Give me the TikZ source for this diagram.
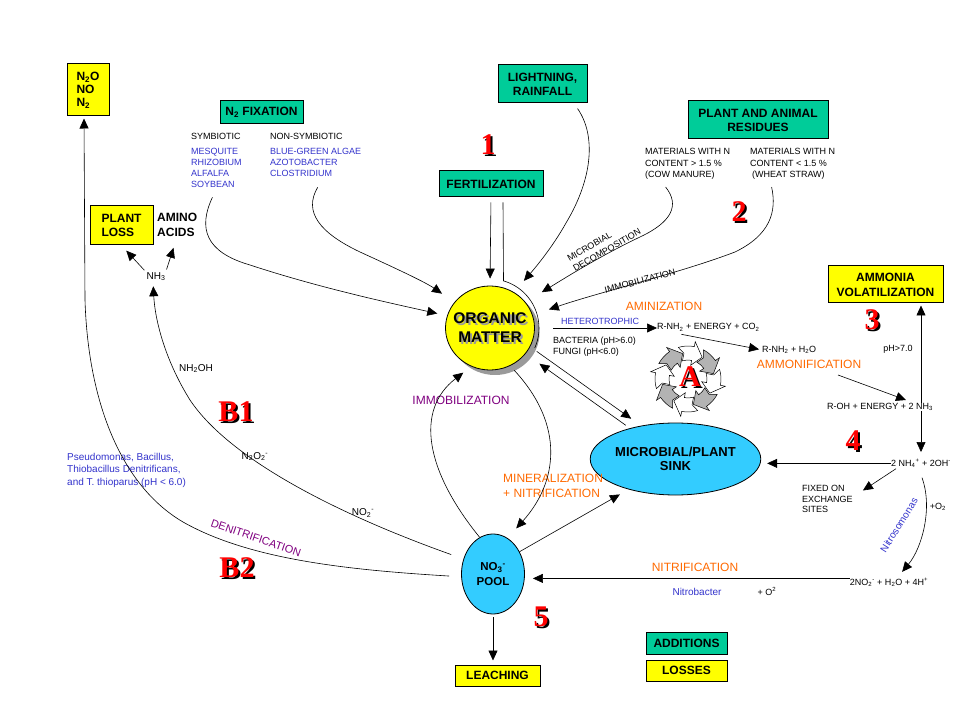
\documentclass[tikz,border=0pt]{standalone}
\usepackage{fontspec}
\setmainfont{Liberation Sans}
\newfontfamily\numfont{Liberation Serif}
\usetikzlibrary{calc,positioning,shapes.geometric,arrows.meta}
\definecolor{ncgreen} {HTML}{00CC99}
\definecolor{ncyellow}{HTML}{FFFF00}
\definecolor{ncsky}   {HTML}{33CCFF}
\definecolor{ncblue}  {HTML}{3333CC}
\definecolor{ncorange}{HTML}{FF6A00}
\definecolor{ncpurple}{HTML}{800080}
\definecolor{ncred}   {HTML}{FF0000}
\definecolor{ncgrey}  {HTML}{B3B3B3}
\definecolor{ncshade} {HTML}{9A9A9A}

% text with a drop shadow behind it
\newcommand{\dropshade}[2]{\rlap{\kern2pt\raisebox{-2pt}{\textcolor{#1}{#2}}}#2}
% red step number
\newcommand{\rednum}[3]{\node[numtext] (#1) at (#2) {\dropshade{black}{#3}};}

\begin{document}
\begin{tikzpicture}[x=1pt, y=-1pt, every node/.style={inner sep=0pt},
    addbox/.style={draw, line width=1pt, fill=ncgreen, align=center,
                   font=\bfseries\fontsize{12}{14}\selectfont},
    lossbox/.style={addbox, fill=ncyellow},
    ovalnode/.style={ellipse, draw, line width=0.8pt, fill=ncsky, align=center},
    smalltxt/.style={font=\fontsize{9}{11}\selectfont, align=left},
    bluetxt/.style={text=ncblue},
    proc/.style={font=\fontsize{12}{15}\selectfont, align=left},
    arr/.style={line width=0.6pt, -{Triangle[length=10pt,width=9pt]}},
    numtext/.style={font=\numfont\bfseries\fontsize{30}{30}\selectfont, text=ncred}]
      \useasboundingbox (0,0) rectangle (959,719);
      \fill[white] (0,0) rectangle (959,719);

      % additions and losses
      \node[lossbox, minimum width=42pt, minimum height=52pt, align=left,
            font=\bfseries\fontsize{12}{13}\selectfont] (gas) at (88,90)
            {N\textsubscript{2}O\\NO\\N\textsubscript{2}};
      \node[addbox, minimum width=83pt, minimum height=23pt] (fix) at (261.5,112.5) {N\textsubscript{2} FIXATION};
      \node[lossbox, minimum width=63pt, minimum height=39pt, align=left] (plantloss) at (121.5,225.5) {PLANT\\LOSS};
      \node[addbox, minimum width=89pt, minimum height=38pt] (light) at (542.5,84) {LIGHTNING,\\RAINFALL};
      \node[addbox, minimum width=104pt, minimum height=26pt] (fert) at (491,184) {FERTILIZATION};
      \node[addbox, minimum width=140pt, minimum height=38pt] (resid) at (758,120) {PLANT AND ANIMAL\\RESIDUES};
      \node[lossbox, minimum width=115pt, minimum height=37pt,
            font=\bfseries\fontsize{12}{15}\selectfont] (volat) at (885.5,284.5) {AMMONIA\\VOLATILIZATION};
      \node[lossbox, minimum width=85pt, minimum height=21pt] (leach) at (497.5,675.5) {LEACHING};
      \node[addbox, minimum width=81pt, minimum height=22pt] (additions) at (686.5,643) {ADDITIONS};
      \node[lossbox, minimum width=81pt, minimum height=21pt] (losses) at (686.5,670.5) {LOSSES};

      % pools
      \node[ellipse, fill=ncshade, minimum width=89pt, minimum height=84pt] (omshade) at (495,333) {};
      \node[ellipse, draw, line width=0.8pt, fill=ncyellow, minimum width=89pt, minimum height=84pt] (om) at (490,328) {};
      \draw[line width=0.6pt] ([shift={(12,5)}]fert.south) -- (503.5,280.9) arc[start angle=74, end angle=-24, radius=49pt];
      \node[font=\bfseries\fontsize{15.5}{19}\selectfont, align=center] (omtext) at (490,328.5)
            {\dropshade{ncshade}{ORGANIC}\\\dropshade{ncshade}{MATTER}};
      \node[ovalnode, minimum width=135pt, minimum height=72pt,
            font=\bfseries\fontsize{13}{14}\selectfont] (sink) at (675.5,459) {MICROBIAL/PLANT\\SINK};
      \node[ovalnode, minimum width=63pt, minimum height=80pt,
            font=\bfseries\fontsize{11.5}{15}\selectfont] (pool) at (493,574) {NO\textsubscript{3}\textsuperscript{-}\\POOL};

      % fixation and residues
      \node[smalltxt, anchor=west] (sym) at (191,136) {SYMBIOTIC};
      \node[smalltxt, anchor=west] (nonsym) at (270,136) {NON-SYMBIOTIC};
      \node[smalltxt, bluetxt, anchor=north west] (symlist) at (191,148.5) {MESQUITE\\RHIZOBIUM\\ALFALFA\\SOYBEAN};
      \node[smalltxt, bluetxt, anchor=north west] (nonsymlist) at (270,148.5) {BLUE-GREEN ALGAE\\AZOTOBACTER\\CLOSTRIDIUM};
      \node[smalltxt, font=\fontsize{9}{11.5}\selectfont, anchor=north west] (cow) at (645,148.5)
            {MATERIALS WITH N\\CONTENT > 1.5 \%\\(COW MANURE)};
      \node[smalltxt, font=\fontsize{9}{11.5}\selectfont, anchor=north west] (straw) at (750,148.5)
            {MATERIALS WITH N\\CONTENT < 1.5 \%\\\hspace{2pt}(WHEAT STRAW)};
      \node[font=\bfseries\fontsize{12}{15}\selectfont, align=left, anchor=north west] (amino) at (157,212.5) {AMINO\\ACIDS};
      \node[font=\fontsize{10}{12}\selectfont, anchor=base] (nh3) at (156,279.5) {NH\textsubscript{3}};
      \node[font=\fontsize{9}{11.5}\selectfont, align=left, rotate=30] (mdecomp) at (604,245) {MICROBIAL\\DECOMPOSITION};
      \node[smalltxt, rotate=15] (immob2) at (640,281) {IMMOBILIZATION};

      % aminization and ammonification
      \node[smalltxt, bluetxt] (het) at (600,321) {HETEROTROPHIC};
      \coordinate (hetstart) at (553,328);
      \node[smalltxt, anchor=base west] (rnh) at (657,330) {R-NH\textsubscript{2} + ENERGY + CO\textsubscript{2}};
      \node[smalltxt, anchor=north west] (bact) at (553,336.5) {BACTERIA (pH>6.0)\\FUNGI (pH<6.0)};
      \node[proc, text=ncorange] (aminiz) at (664,306) {AMINIZATION};
      \node[smalltxt, anchor=base west] (rnhh2o) at (762,352.5) {R-NH\textsubscript{2} + H\textsubscript{2}O};
      \node[proc, text=ncorange] (ammonif) at (809,364) {AMMONIFICATION};
      \node[smalltxt, anchor=base] (roh) at (880,409.5) {R-OH + ENERGY + 2 NH\textsubscript{3}};
      \node[smalltxt, anchor=base] (ph7) at (898,351.5) {pH>7.0};
      \node[smalltxt, anchor=base] (nh4) at (921,466.5) {2 NH\textsubscript{4}\textsuperscript{+} + 2OH\textsuperscript{-}};
      \node[smalltxt, font=\fontsize{9}{10.5}\selectfont, anchor=north west] (fixed) at (802,485.5) {FIXED ON\\EXCHANGE\\SITES};
      \node[smalltxt, anchor=base] (o2) at (938,509.5) {+O\textsubscript{2}};
      \node[font=\fontsize{10}{12}\selectfont, bluetxt, rotate=58] (nitroso) at (899,525) {Nitrosomonas};
      \node[smalltxt, anchor=base] (no2h) at (889,585.5)
            {2NO\textsubscript{2}\textsuperscript{-} + H\textsubscript{2}O + 4H\textsuperscript{+}};
      \node[proc, text=ncorange] (nitrif) at (695,567) {NITRIFICATION};
      \node[font=\fontsize{10}{12}\selectfont, bluetxt] (nitrob) at (697,592) {Nitrobacter};
      \node[smalltxt, anchor=base] (plusO) at (767,595) {+ O\textsuperscript{2}};

      % cycle A
      \begin{scope}[shift={(688,379)}]
        \foreach \a/\c in {152/ncgrey,107/white,62/ncgrey,17/white,-28/ncgrey,-73/white,-118/ncgrey,-163/white}{
          \pgfmathsetmacro\cyb{\a-28}
          \pgfmathsetmacro\cye{\a-50}
          \pgfmathsetmacro\cyn{\a-8}
          \filldraw[fill=\c, line width=0.5pt]
            (\a:33pt) arc[start angle=\a, end angle=\cyb, radius=33pt]
            -- (\cyb:38pt) -- (\cye:26pt) -- (\cyb:14pt) -- (\cyb:19pt)
            arc[start angle=\cyb, end angle=\a, radius=19pt]
            -- (\cyn:26pt) -- cycle;
        }
      \end{scope}

      % middle and lower labels
      \node[proc, text=ncpurple] (immob) at (461,400) {IMMOBILIZATION};
      \node[proc, text=ncorange, anchor=north west] (miner) at (503,473.5) {MINERALIZATION\\+ NITRIFICATION};
      \node[font=\fontsize{10}{12.5}\selectfont, bluetxt, align=left, anchor=north west] (pseudo) at (67,453)
            {Pseudomonas, Bacillus,\\Thiobacillus Denitrificans,\\and T. thioparus (pH < 6.0)};
      \node[font=\fontsize{10}{12}\selectfont, anchor=base] (nh2oh) at (196,371.5) {NH\textsubscript{2}OH};
      \node[font=\fontsize{10}{12}\selectfont, anchor=base] (n2o2) at (255,459.5) {N\textsubscript{2}O\textsubscript{2}\textsuperscript{-}};
      \node[font=\fontsize{10}{12}\selectfont, anchor=base] (no2lab) at (363,515.5) {NO\textsubscript{2}\textsuperscript{-}};
      \node[font=\fontsize{11}{13}\selectfont, text=ncpurple, rotate=-19] (denit) at (256,538) {DENITRIFICATION};

      % step numbers
      \rednum{one}{488,146}{1}
      \rednum{two}{739,213}{2}
      \rednum{three}{872,321}{3}
      \rednum{four}{853,442}{4}
      \rednum{five}{541,618}{5}
      \rednum{bone}{236,413}{B1}
      \rednum{btwo}{237,569}{B2}
      \rednum{acyc}{690,378}{A}

      % flows into organic matter
      \draw[arr, shorten >=10pt] ([shift={(-4,9)}]symlist.south) .. controls (198,228) and (205,252) .. (250,265)
        .. controls (320,288) and (390,303) .. (om.164);
      \draw[arr, shorten >=15pt] ([shift={(2,10)}]nonsymlist.south) .. controls (303,212) and (320,233) .. (360,252)
        .. controls (395,268) and (425,282) .. (om.144);
      \draw[arr, shorten <=5pt, shorten >=7pt] (fert.south) -- (om.north);
      \draw[arr, shorten >=15pt] ([shift={(35,5)}]light.south) .. controls (596,135) and (593,178) .. (566,223)
        .. controls (552,248) and (535,268) .. (om.56);
      \draw[arr, shorten >=19pt] ([shift={(-22,7)}]cow.south) .. controls (680,205) and (672,222) .. (640,237)
        .. controls (600,256) and (565,278) .. (om.36);
      \draw[arr, shorten >=17pt] ([shift={(-21,7)}]straw.south) .. controls (777,212) and (770,235) .. (735,252)
        .. controls (680,273) and (600,292) .. (om.17);

      % aminization chain
      \draw[arr] (hetstart) -- (hetstart -| rnh.west);
      \draw[arr, shorten >=3pt] ([shift={(-27,3)}]rnh.south) -- (rnhh2o.west);
      \draw[arr] ([shift={(29,11)}]ammonif.center) -- ([shift={(26,-3)}]roh.north);
      \draw[arr, shorten >=2pt] (roh.north -| nh4) -- (volat.south -| nh4);
      \draw[arr, shorten >=7pt] (roh.south -| nh4) -- (nh4.north);
      \draw[arr, shorten >=6pt] (nh4.west) -- (sink.east |- nh4.west);
      \draw[arr] ([shift={(5,1)}]nh4.south west) -- ([shift={(10,5)}]fixed.north east);
      \draw[arr, shorten >=8pt] ([shift={(1,10)}]nh4.south) .. controls (933,508) and (922,548) .. ([xshift=8pt]no2h.north);
      \coordinate (nitrstart) at ([yshift=4pt]no2h.west);
      \draw[arr, shorten >=8pt] (nitrstart) -- (nitrstart -| pool.east);

      % exchange between pools
      \draw[arr, shorten >=10pt] (pool.40) -- (sink.213);
      \draw[arr, shorten <=8pt, shorten >=12pt] (om.-25) -- (sink.136);
      \draw[arr, shorten <=5pt, shorten >=17pt] (sink.146) -- (om.-36);
      \draw[arr, shorten <=6pt, shorten >=13pt] (om.-62) .. controls (565,425) and (558,482) .. (pool.68);
      \draw[arr, shorten >=10pt] (pool.110) .. controls (425,470) and (415,410) .. (om.244);
      \draw[arr, shorten <=3pt, shorten >=4pt] (pool.south) -- (pool.south |- leach.north);

      % denitrification
      \draw[arr, shorten <=13pt, shorten >=5pt] (pool.153) .. controls (340,515) and (230,460) .. (190,400)
        .. controls (165,360) and (155,320) .. ([xshift=-3pt]nh3.south);
      \draw[arr, shorten <=12pt, shorten >=2pt] (pool.185) .. controls (350,570) and (250,560) .. (183,522)
        .. controls (120,485) and (88,400) .. (85,300) -- ([xshift=-4pt]gas.south);
      \draw[arr, shorten <=3pt, shorten >=7pt] (nh3.north west) -- (plantloss.south);
      \draw[arr, shorten <=3pt, shorten >=12pt] (nh3.north east) -- (amino.south);
    \end{tikzpicture}
\end{document}
